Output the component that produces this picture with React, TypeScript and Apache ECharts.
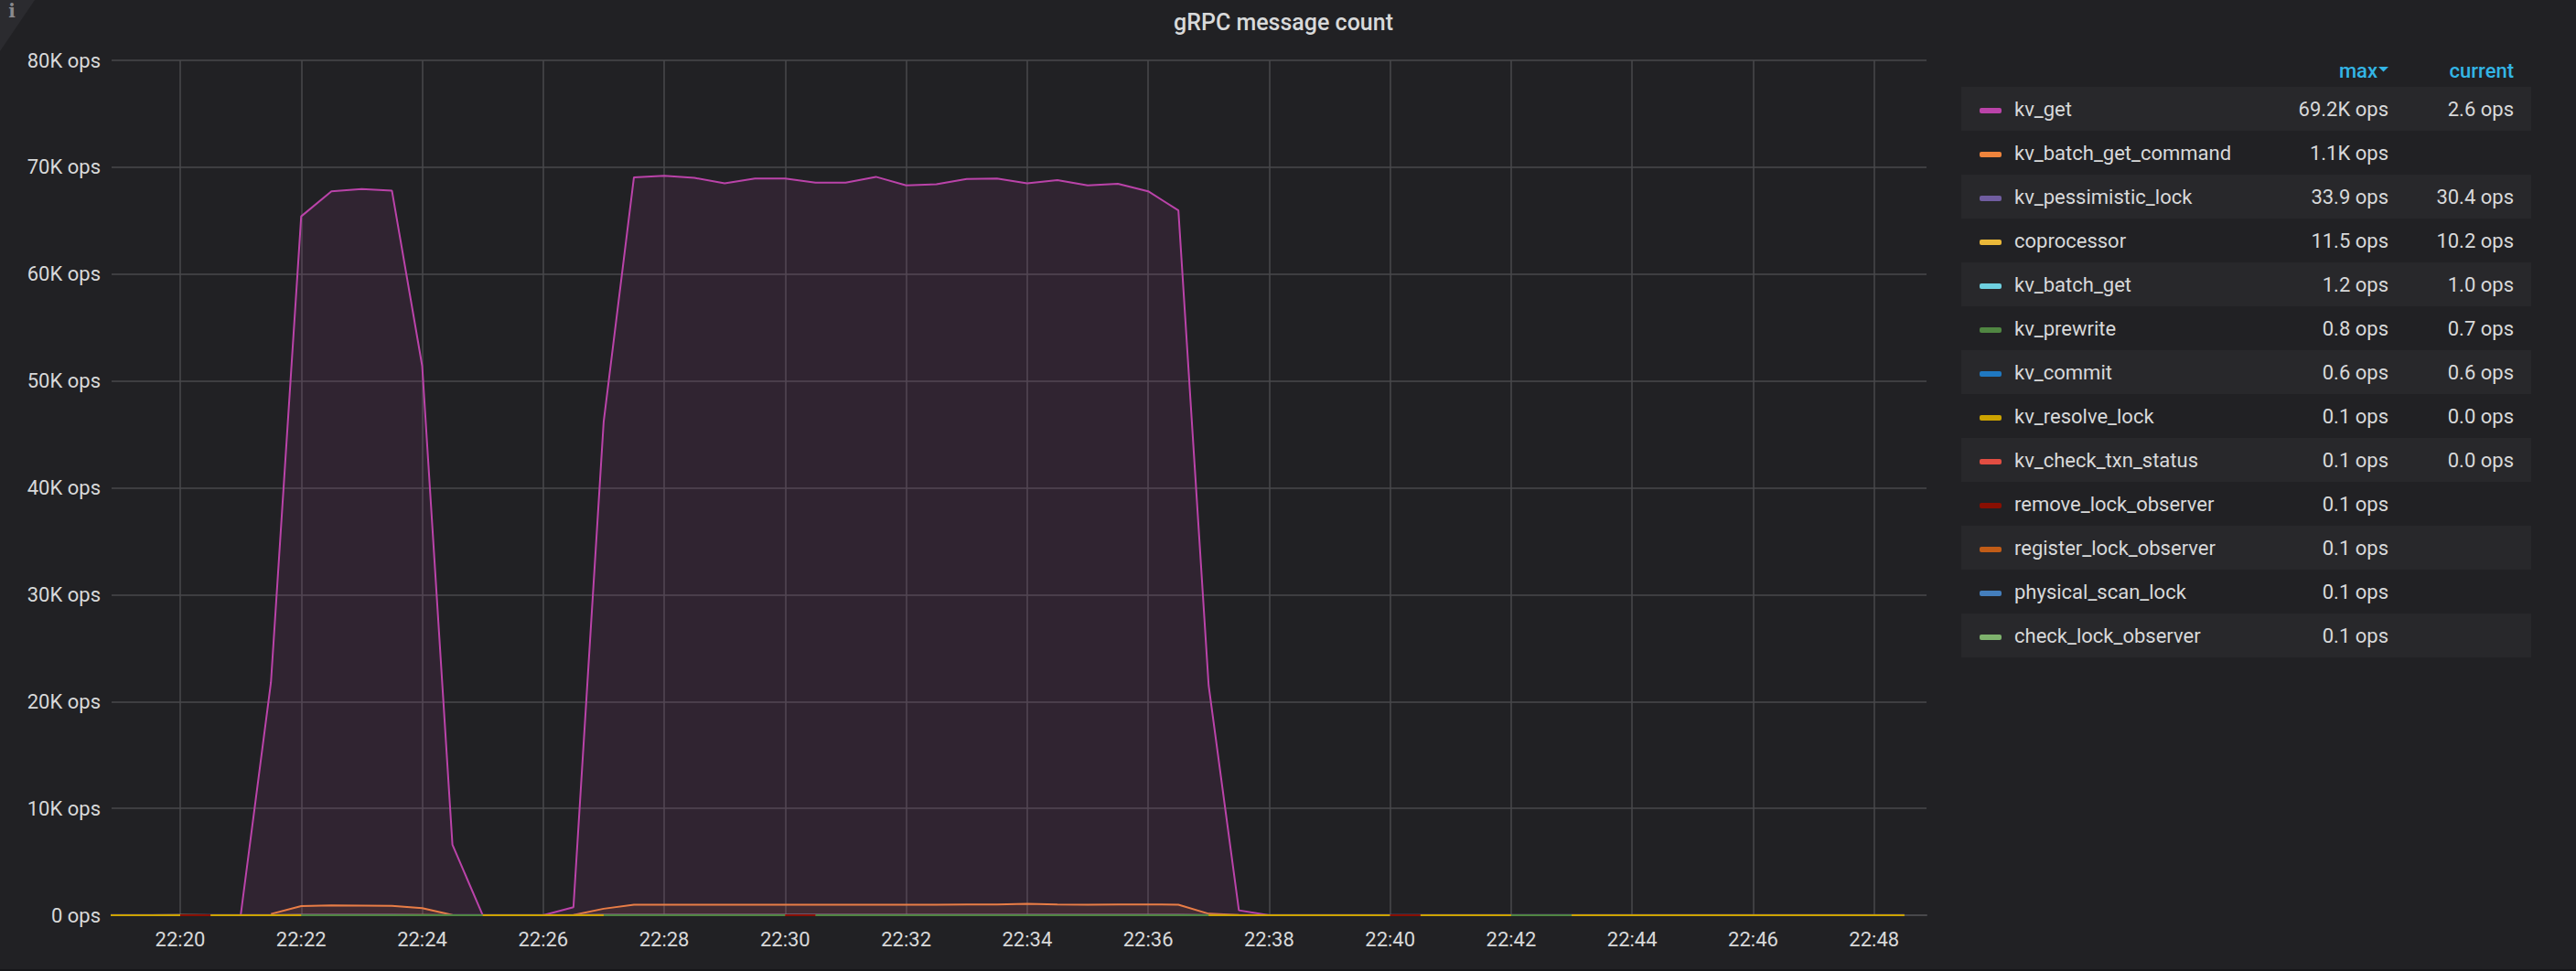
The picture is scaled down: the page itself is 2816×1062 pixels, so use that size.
import React, { useEffect, useRef } from "react";
import * as echarts from "echarts";

// ---------- data ----------
const panelTitle = "gRPC message count";
const firstSampleMinute = 22 * 60 + 18.5; // 22:18:30
const sampleStepMinutes = 0.5; // 30 s scrape step
const axisMinMinute = 22 * 60 + 18.866;
const axisMaxMinute = 22 * 60 + 48.866;
const yTicks = [0, 10000, 20000, 30000, 40000, 50000, 60000, 70000, 80000];

const kvGet = [
  2.4, 2.5, 2.6, 2.5, 2.6, 2.7, 21800, 65400, 67750, 67950,
  67800, 51400, 6600, 2.6, 2.5, 2.7, 750, 46200, 69050, 69200,
  69000, 68500, 68950, 68950, 68550, 68550, 69100, 68300, 68400, 68900,
  68950, 68500, 68800, 68300, 68450, 67750, 65950, 21500, 460, 2.6,
  2.5, 2.6, 2.7, 2.6, 2.5, 2.6, 2.6, 2.7, 2.5, 2.6,
  2.6, 2.5, 2.7, 2.6, 2.6, 2.5, 2.6, 2.7, 2.6, 2.5,
  2.6,
];
const kvBatchGetCommand = [
  null, null, null, null, null, null, 120, 860, 910, 905,
  880, 660, 20, null, null, null, 15, 610, 980, 985,
  980, 975, 980, 985, 980, 975, 990, 985, 990, 1000,
  1010, 1060, 1000, 990, 995, 1000, 990, 140, 15, null,
  null, null, null, null, null, null, null, null, null, null,
  null, null, null, null, null, null, null, null, null, null,
  null,
];
const kvPessimisticLock = [
  30.1, 29.8, 30.5, 31.2, 30.7, 29.9, 30.3, 32.8, 33.1, 33.9,
  32.6, 31.4, 30.2, 29.7, 30.0, 29.5, 30.8, 32.4, 33.0, 33.5,
  32.9, 33.2, 32.7, 33.4, 33.1, 32.8, 33.6, 33.0, 32.5, 33.3,
  32.9, 33.1, 32.6, 33.2, 32.8, 33.0, 32.4, 31.1, 30.2, 29.8,
  30.1, 30.4, 29.9, 30.6, 30.2, 29.7, 30.3, 30.0, 30.5, 29.8,
  30.2, 30.6, 30.1, 29.9, 30.4, 30.0, 30.3, 29.7, 30.5, 30.1,
  30.4,
];
const coprocessor = [
  10.1, 9.8, 10.4, 10.9, 10.2, 9.9, 10.3, 11.0, 11.3, 11.5,
  11.2, 10.8, 10.1, 9.7, 10.0, 9.6, 10.5, 11.1, 11.4, 11.2,
  11.3, 11.0, 11.4, 11.1, 11.3, 10.9, 11.2, 11.4, 11.0, 11.3,
  11.1, 11.2, 10.9, 11.3, 11.0, 11.2, 10.8, 10.6, 10.2, 9.9,
  10.1, 10.3, 9.8, 10.6, 10.2, 9.7, 10.3, 10.0, 10.4, 9.9,
  10.2, 10.5, 10.1, 9.8, 10.3, 10.0, 10.2, 9.7, 10.4, 10.1,
  10.2,
];
const kvBatchGet = [
  1.0, 0.9, 1.0, 1.1, 1.0, 0.9, 1.0, 1.1, 1.2, 1.1,
  1.0, 1.0, 0.9, 1.0, 1.0, 0.9, 1.0, 1.1, 1.2, 1.1,
  1.1, 1.2, 1.1, 1.0, 1.1, 1.2, 1.1, 1.0, 1.1, 1.2,
  1.1, 1.0, 1.1, 1.2, 1.1, 1.0, 1.1, 1.0, 1.0, 0.9,
  1.0, 1.0, 0.9, 1.1, 1.0, 0.9, 1.0, 1.0, 1.1, 0.9,
  1.0, 1.1, 1.0, 0.9, 1.0, 1.0, 1.1, 0.9, 1.0, 1.0,
  1.0,
];
const kvPrewrite = [
  0.7, 0.6, 0.7, 0.7, 0.7, 0.6, 0.7, 0.8, 0.8, 0.7,
  0.7, 0.7, 0.6, 0.7, 0.7, 0.6, 0.7, 0.8, 0.8, 0.7,
  0.8, 0.7, 0.8, 0.7, 0.8, 0.7, 0.8, 0.8, 0.7, 0.8,
  0.7, 0.8, 0.7, 0.8, 0.7, 0.8, 0.7, 0.7, 0.7, 0.6,
  0.7, 0.7, 0.6, 0.7, 0.7, 0.6, 0.7, 0.7, 0.7, 0.6,
  0.7, 0.7, 0.7, 0.6, 0.7, 0.7, 0.7, 0.6, 0.7, 0.7,
  0.7,
];
const kvCommit = [
  0.6, 0.5, 0.6, 0.6, 0.6, 0.5, 0.6, 0.6, 0.6, 0.6,
  0.6, 0.6, 0.5, 0.6, 0.6, 0.5, 0.6, 0.6, 0.6, 0.6,
  0.6, 0.6, 0.6, 0.6, 0.6, 0.6, 0.6, 0.6, 0.6, 0.6,
  0.6, 0.6, 0.6, 0.6, 0.6, 0.6, 0.6, 0.6, 0.6, 0.5,
  0.6, 0.6, 0.5, 0.6, 0.6, 0.5, 0.6, 0.6, 0.6, 0.5,
  0.6, 0.6, 0.6, 0.5, 0.6, 0.6, 0.6, 0.5, 0.6, 0.6,
  0.6,
];
const kvResolveLock = [
  0.0, 0.0, 0.1, 0.0, 0.0, 0.0, 0.1, 0.0, null, null,
  null, null, null, 0.0, 0.1, 0.0, 0.0, 0.0, null, null,
  null, null, null, null, null, null, null, null, null, null,
  null, null, null, null, null, null, null, 0.0, 0.0, 0.1,
  0.0, 0.0, 0.0, 0.1, 0.0, 0.0, 0.0, 0.0, null, 0.0,
  0.0, 0.1, 0.0, 0.0, 0.0, 0.0, 0.1, 0.0, 0.0, 0.0,
  0.0,
];
const kvCheckTxnStatus = [
  0.0, 0.0, 0.1, 0.0, 0.0, 0.0, 0.0, 0.1, 0.0, 0.0,
  0.1, 0.0, 0.0, 0.0, 0.0, 0.1, 0.0, 0.0, 0.0, 0.1,
  0.0, 0.0, 0.1, 0.0, 0.0, 0.0, 0.1, 0.0, 0.0, 0.0,
  0.1, 0.0, 0.0, 0.0, 0.1, 0.0, 0.0, 0.0, 0.0, 0.1,
  0.0, 0.0, 0.0, 0.1, 0.0, 0.0, 0.0, 0.0, 0.1, 0.0,
  0.0, 0.0, 0.1, 0.0, 0.0, 0.0, 0.0, 0.1, 0.0, 0.0,
  0.0,
];
// GC lock-observer calls happen only around 22:20, 22:30 and 22:40
const lockObserverCalls = [
  null, null, null, 0.1, 0.1, null, null, null, null, null,
  null, null, null, null, null, null, null, null, null, null,
  null, null, null, 0.1, 0.1, null, null, null, null, null,
  null, null, null, null, null, null, null, null, null, null,
  null, null, null, 0.1, 0.1, null, null, null, null, null,
  null, null, null, null, null, null, null, null, null, null,
  null,
];

// draw order (Grafana draws series in query order: alphabetical)
const drawOrder = [
  "check_lock_observer", "coprocessor", "kv_batch_get", "kv_batch_get_command",
  "kv_check_txn_status", "kv_commit", "kv_get", "kv_pessimistic_lock",
  "kv_prewrite", "kv_resolve_lock", "physical_scan_lock",
  "register_lock_observer", "remove_lock_observer",
];
const seriesValues: Record<string, (number | null)[]> = {
  check_lock_observer: lockObserverCalls,
  coprocessor: coprocessor,
  kv_batch_get: kvBatchGet,
  kv_batch_get_command: kvBatchGetCommand,
  kv_check_txn_status: kvCheckTxnStatus,
  kv_commit: kvCommit,
  kv_get: kvGet,
  kv_pessimistic_lock: kvPessimisticLock,
  kv_prewrite: kvPrewrite,
  kv_resolve_lock: kvResolveLock,
  physical_scan_lock: lockObserverCalls,
  register_lock_observer: lockObserverCalls,
  remove_lock_observer: lockObserverCalls,
};
const seriesColors: Record<string, string> = {
  check_lock_observer: "#7EB26D",
  coprocessor: "#EAB839",
  kv_batch_get: "#6ED0E0",
  kv_batch_get_command: "#EF843C",
  kv_check_txn_status: "#E24D42",
  kv_commit: "#1F78C1",
  kv_get: "#BA43A9",
  kv_pessimistic_lock: "#705DA0",
  kv_prewrite: "#508642",
  kv_resolve_lock: "#CCA300",
  physical_scan_lock: "#447EBC",
  register_lock_observer: "#C15C17",
  remove_lock_observer: "#890F02",
};

// legend table (sorted by max, descending)
const legendNames = [
  "kv_get", "kv_batch_get_command", "kv_pessimistic_lock", "coprocessor",
  "kv_batch_get", "kv_prewrite", "kv_commit", "kv_resolve_lock",
  "kv_check_txn_status", "remove_lock_observer", "register_lock_observer",
  "physical_scan_lock", "check_lock_observer",
];
const legendMax = [
  "69.2K ops", "1.1K ops", "33.9 ops", "11.5 ops", "1.2 ops", "0.8 ops",
  "0.6 ops", "0.1 ops", "0.1 ops", "0.1 ops", "0.1 ops", "0.1 ops", "0.1 ops",
];
const legendCurrent = [
  "2.6 ops", "", "30.4 ops", "10.2 ops", "1.0 ops", "0.7 ops",
  "0.6 ops", "0.0 ops", "0.0 ops", "", "", "", "",
];
const legendHeaders = ["max", "current"];

// ---------- styling ----------
const BG = "#212124";
const TEXT = "#d8d9da";
const GRID = "#48484b";
const FONT = "Roboto";

function fmtClock(v: number) {
  const h = Math.floor(v / 60);
  const m = Math.round(v - h * 60);
  return `${h}:${String(m).padStart(2, "0")}`;
}
function fmtOps(v: number) {
  if (v === 0) return "0 ops";
  return `${v / 1000}K ops`;
}

export default function App() {
  const ref = useRef<HTMLDivElement>(null);

  useEffect(() => {
    if (!ref.current) return;
    const chart = echarts.init(ref.current, undefined, { renderer: "svg" });

    const series = drawOrder.map((name, i) => ({
      name,
      type: "line",
      data: seriesValues[name].map((v, k) => [firstSampleMinute + k * sampleStepMinutes, v]),
      showSymbol: false,
      symbol: "none",
      connectNulls: false,
      color: seriesColors[name],
      lineStyle: { width: 2, color: seriesColors[name] },
      areaStyle: { color: seriesColors[name], opacity: 0.1 },
      z: 2 + i * 0.01,
      zlevel: 0,
      silent: true,
    }));

    // legend table graphic
    const rowX = 2144;
    const rowW = 623;
    const rowH = 48;
    const firstRowCy = 119;
    const maxRight = 2611;
    const curRight = 2748;
    const elements: any[] = [];

    // info corner
    elements.push({
      type: "polygon",
      shape: { points: [[0, 0], [38, 0], [0, 56]] },
      style: { fill: "#2b2b2f" },
      silent: true,
    });
    elements.push({
      type: "text",
      style: {
        text: "i", x: 13, y: 12, fill: "#8a8a8e",
        fontSize: 20, fontWeight: "bold", fontFamily: "DejaVu Serif",
        align: "center", verticalAlign: "middle",
        textAlign: "center", textVerticalAlign: "middle",
      },
      silent: true,
    });
    // title
    elements.push({
      type: "text",
      style: {
        text: panelTitle, x: 1403, y: 24, fill: TEXT,
        fontSize: 25, fontWeight: 500, fontFamily: FONT,
        align: "center", verticalAlign: "middle",
        textAlign: "center", textVerticalAlign: "middle",
      },
      silent: true,
    });
    // headers
    elements.push({
      type: "text",
      style: {
        text: legendHeaders[0], x: maxRight - 12, y: 77, fill: "#33b5e5",
        fontSize: 22, fontWeight: 500, fontFamily: FONT,
        align: "right", verticalAlign: "middle",
        textAlign: "right", textVerticalAlign: "middle",
      },
      silent: true,
    });
    elements.push({
      type: "polygon",
      shape: { points: [[maxRight - 11, 73], [maxRight, 73], [maxRight - 5.5, 78.5]] },
      style: { fill: "#33b5e5" },
      silent: true,
    });
    elements.push({
      type: "text",
      style: {
        text: legendHeaders[1], x: curRight, y: 77, fill: "#33b5e5",
        fontSize: 22, fontWeight: 500, fontFamily: FONT,
        align: "right", verticalAlign: "middle",
        textAlign: "right", textVerticalAlign: "middle",
      },
      silent: true,
    });

    legendNames.forEach((name, i) => {
      const cy = firstRowCy + i * rowH;
      if (i % 2 === 0) {
        elements.push({
          type: "rect",
          shape: { x: rowX, y: cy - rowH / 2, width: rowW, height: rowH },
          style: { fill: "#28282b" },
          silent: true,
        });
      }
      elements.push({
        type: "rect",
        shape: { x: 2164, y: cy - 1, width: 24, height: 6, r: 2 },
        style: { fill: seriesColors[name] },
        silent: true,
      });
      const txt = (text: string, x: number, align: string) => ({
        type: "text",
        style: {
          text, x, y: cy, fill: TEXT, fontSize: 22, fontFamily: FONT,
          align, verticalAlign: "middle",
          textAlign: align, textVerticalAlign: "middle",
        },
        silent: true,
      });
      elements.push(txt(name, 2202, "left"));
      elements.push(txt(legendMax[i], maxRight, "right"));
      if (legendCurrent[i]) elements.push(txt(legendCurrent[i], curRight, "right"));
    });

    // bottom panel edge
    elements.push({
      type: "rect",
      shape: { x: 0, y: 1060, width: 2816, height: 2 },
      style: { fill: "#161719" },
      silent: true,
    });

    chart.setOption({
      animation: false,
      backgroundColor: BG,
      textStyle: { fontFamily: FONT },
      grid: { left: 122, top: 66, width: 1984, height: 935, containLabel: false },
      xAxis: {
        type: "value",
        min: axisMinMinute,
        max: axisMaxMinute,
        splitNumber: 15,
        minInterval: 2,
        maxInterval: 2,
        axisLine: { show: true, lineStyle: { color: GRID, width: 2 } },
        axisTick: { show: false },
        axisLabel: {
          color: TEXT, fontSize: 22, fontFamily: FONT, margin: 15,
          showMinLabel: false, showMaxLabel: false,
          formatter: (v: number) => fmtClock(v),
        },
        splitLine: {
          show: true, showMinLine: false, showMaxLine: false,
          lineStyle: { color: GRID, width: 1.5 },
        },
      },
      yAxis: {
        type: "value",
        min: yTicks[0],
        max: yTicks[yTicks.length - 1],
        interval: yTicks[1] - yTicks[0],
        axisLine: { show: false },
        axisTick: { show: false },
        axisLabel: {
          color: TEXT, fontSize: 22, fontFamily: FONT, margin: 12,
          formatter: (v: number) => fmtOps(v),
        },
        splitLine: { show: true, lineStyle: { color: GRID, width: 1.5 } },
      },
      series,
      graphic: { elements },
    });

    return () => chart.dispose();
  }, []);

  return (
    <div
      ref={ref}
      style={{ position: "fixed", left: 0, top: 0, width: 2816, height: 1062, background: BG }}
    />
  );
}
